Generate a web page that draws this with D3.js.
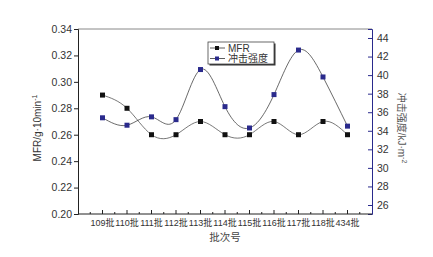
<!DOCTYPE html>
<html>
<head>
<meta charset="utf-8">
<script src="https://cdn.jsdelivr.net/npm/d3@7"></script>
<style>
  body { margin: 0; background: #fff; }
  text { font-family: Arial, "Liberation Sans", "Noto Sans CJK SC", sans-serif; }
</style>
</head>
<body>
<svg id="chart" width="433" height="257"></svg>
<script>
var batches = ['109批', '110批', '111批', '112批', '113批', '114批', '115批', '116批', '117批', '118批', '434批'];
var mfr = [0.29, 0.28, 0.26, 0.26, 0.27, 0.26, 0.26, 0.27, 0.26, 0.27, 0.26];
var impact = [35.4, 34.6, 35.5, 35.2, 40.6, 36.6, 34.3, 37.9, 42.7, 39.8, 34.5];
var leftTicks = [0.20, 0.22, 0.24, 0.26, 0.28, 0.30, 0.32, 0.34];
var rightTicks = [26, 28, 30, 32, 34, 36, 38, 40, 42, 44];

var plotL = 78, plotR = 372, plotT = 29, plotB = 214;
var navy = '#2a2a8c';

var svg = d3.select('#chart');

var x = d3.scalePoint().domain(batches).range([plotL, plotR]).padding(1);
var yL = d3.scaleLinear().domain([0.20, 0.34]).range([plotB, plotT]);
var yR = d3.scaleLinear().domain([25.03, 44.97]).range([plotB, plotT]);

// frame top
svg.append('line')
  .attr('x1', plotL).attr('x2', plotR).attr('y1', plotT).attr('y2', plotT)
  .style('stroke', '#888').style('stroke-width', 1);

// left axis
var gL = svg.append('g').attr('transform', 'translate(' + plotL + ',0)');
gL.call(d3.axisLeft(yL).tickValues(d3.range(0.20, 0.3401, 0.01)).tickSize(2).tickFormat(''));
gL.call(d3.axisLeft(yL).tickValues(leftTicks).tickSize(4).tickFormat(d3.format('.2f')));
gL.selectAll('path').style('stroke', '#222');
gL.selectAll('line').style('stroke', '#222');
gL.selectAll('text').style('font-size', '10.5px').style('fill', '#333').attr('x', -6);

// right axis
var gR = svg.append('g').attr('transform', 'translate(' + plotR + ',0)');
gR.call(d3.axisLeft(yR).tickValues(d3.range(26, 45, 1)).tickSize(2).tickFormat(''));
gR.call(d3.axisLeft(yR).tickValues(rightTicks).tickSize(4).tickFormat(d3.format('d')));
gR.selectAll('path').style('stroke', navy);
gR.selectAll('line').style('stroke', navy);
gR.selectAll('text').style('font-size', '10.5px').style('fill', '#333')
  .attr('x', 5).style('text-anchor', 'start');

// bottom axis, ticks pointing up
var minorX = [];
for (var i = 0; i <= batches.length; i++) minorX.push(x.range()[0] + x.step() * (i + 0.5));
var gB = svg.append('g').attr('transform', 'translate(0,' + plotB + ')');
gB.selectAll('.minor').data(minorX).enter().append('line')
  .attr('x1', function(d) { return d; }).attr('x2', function(d) { return d; })
  .attr('y1', 0).attr('y2', -2).style('stroke', '#222');
gB.selectAll('.major').data(batches).enter().append('line')
  .attr('x1', function(d) { return x(d); }).attr('x2', function(d) { return x(d); })
  .attr('y1', 0).attr('y2', -4).style('stroke', '#222');
gB.append('line').attr('x1', plotL).attr('x2', plotR).style('stroke', '#222');
gB.selectAll('.lbl').data(batches).enter().append('text')
  .attr('x', function(d) { return x(d); }).attr('y', 12)
  .style('text-anchor', 'middle').style('font-size', '9px').style('fill', '#333')
  .text(function(d) { return d; });

// axis titles
svg.append('text')
  .attr('transform', 'translate(41,128) rotate(-90)')
  .style('text-anchor', 'middle').style('font-size', '10px').style('fill', '#333')
  .html('MFR/g·10min<tspan dy="-4" font-size="7">-1</tspan>');
svg.append('text')
  .attr('transform', 'translate(398,128) rotate(90)')
  .style('text-anchor', 'middle').style('font-size', '10px').style('fill', '#555')
  .html('冲击强度/kJ·m<tspan dy="-4" font-size="7">-2</tspan>');
svg.append('text')
  .attr('x', 225).attr('y', 241)
  .style('text-anchor', 'middle').style('font-size', '10.5px').style('fill', '#444')
  .text('批次号');

// curves (Origin-style spline)
var lineL = d3.line().x(function(d, i) { return x(batches[i]); }).y(function(d) { return yL(d); })
  .curve(d3.curveNatural);
var lineR = d3.line().x(function(d, i) { return x(batches[i]); }).y(function(d) { return yR(d); })
  .curve(d3.curveNatural);

svg.append('path').datum(mfr).attr('d', lineL)
  .style('fill', 'none').style('stroke', '#555').style('stroke-width', 0.8);
svg.append('path').datum(impact).attr('d', lineR)
  .style('fill', 'none').style('stroke', '#444').style('stroke-width', 0.8);

var ms = 5;
svg.selectAll('.mL').data(mfr).enter().append('rect')
  .attr('x', function(d, i) { return x(batches[i]) - ms / 2; })
  .attr('y', function(d) { return yL(d) - ms / 2; })
  .attr('width', ms).attr('height', ms).style('fill', '#111');
svg.selectAll('.mR').data(impact).enter().append('rect')
  .attr('x', function(d, i) { return x(batches[i]) - ms / 2; })
  .attr('y', function(d) { return yR(d) - ms / 2; })
  .attr('width', ms).attr('height', ms).style('fill', navy);

// legend
var lg = svg.append('g').attr('transform', 'translate(208,42)');
lg.append('rect').attr('x', 1.5).attr('y', 1.5).attr('width', 66).attr('height', 22).style('fill', '#333');
lg.append('rect').attr('width', 66).attr('height', 22)
  .style('fill', '#fff').style('stroke', '#444').style('stroke-width', 0.8);
var legendItems = [{ name: 'MFR', color: '#111' }, { name: '冲击强度', color: navy }];
legendItems.forEach(function(d, i) {
  var yy = 6 + i * 10.5;
  lg.append('line').attr('x1', 2).attr('x2', 17).attr('y1', yy).attr('y2', yy)
    .style('stroke', '#333').style('stroke-width', 0.8);
  lg.append('rect').attr('x', 7).attr('y', yy - 2).attr('width', 4).attr('height', 4).style('fill', d.color);
  lg.append('text').attr('x', 20).attr('y', yy + 3.5)
    .style('font-size', '10px').style('fill', '#333').text(d.name);
});
</script>
</body>
</html>
